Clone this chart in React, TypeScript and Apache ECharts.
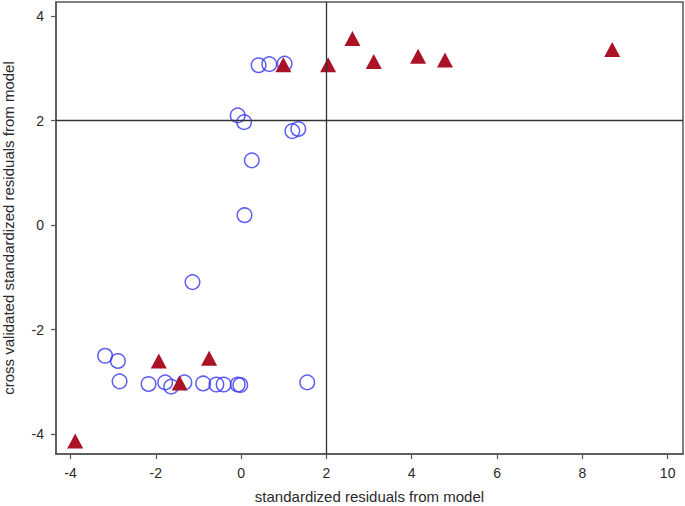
import React, { useEffect, useRef } from "react";
import * as echarts from "echarts";

const circleX = [0.41, 0.66, 1.02, -0.08, 0.07, 1.2, 1.34, 0.25, 0.08, -1.14, -3.19, -2.89, -2.85, -2.17, -1.78, -1.64, -1.33, -0.89, -0.58, -0.41, -0.08, -0.02, 1.55];
const circleY = [3.06, 3.08, 3.09, 2.1, 1.97, 1.8, 1.84, 1.24, 0.19, -1.09, -2.5, -2.6, -2.99, -3.04, -3.01, -3.09, -3.01, -3.03, -3.05, -3.05, -3.05, -3.06, -3.01];

const triX = [0.99, 2.04, 2.61, 3.11, 4.15, 4.78, 8.7, -1.93, -1.44, -0.75, -3.89];
const triY = [3.07, 3.07, 3.57, 3.13, 3.23, 3.16, 3.36, -2.6, -3.02, -2.55, -4.13];

const xTicks = [-4, -2, 0, 2, 4, 6, 8, 10];
const yTicks = [-4, -2, 0, 2, 4];
const refX = 2;
const refY = 2;

const xTitle = "standardized residuals from model";
const yTitle = "cross validated standardized residuals from model";

export default function App() {
  const ref = useRef<HTMLDivElement>(null);
  useEffect(() => {
    if (!ref.current) return;
    const chart = echarts.init(ref.current, undefined, { renderer: "svg" });
    const font = "Liberation Sans, Arial, sans-serif";
    const axisCommon = {
      type: "value",
      axisLine: { show: true, onZero: false, lineStyle: { color: "#555", width: 1.5 } },
      axisTick: { show: true, length: 5, lineStyle: { color: "#555", width: 1.2 } },
      splitLine: { show: false },
      nameLocation: "middle",
      nameTextStyle: { fontFamily: font, fontSize: 15, color: "#2a2a2a" },
    };
    chart.setOption({
      animation: false,
      backgroundColor: "#fff",
      grid: {
        left: 56,
        right: 2,
        top: 2,
        bottom: 52,
        show: true,
        borderColor: "#555",
        borderWidth: 1.5,
        outerBoundsMode: "none",
        containLabel: false,
      },
      xAxis: {
        ...axisCommon,
        min: -4.34,
        max: 10.36,
        name: xTitle,
        nameGap: 35,
        axisTick: { ...axisCommon.axisTick, customValues: xTicks },
        axisLabel: {
          customValues: xTicks,
          fontFamily: font,
          fontSize: 14,
          color: "#2a2a2a",
          margin: 12,
        },
      },
      yAxis: {
        ...axisCommon,
        min: -4.38,
        max: 4.27,
        name: yTitle,
        nameGap: 40,
        axisTick: { ...axisCommon.axisTick, customValues: yTicks },
        axisLabel: {
          customValues: yTicks,
          fontFamily: font,
          fontSize: 14,
          color: "#2a2a2a",
          margin: 12,
        },
      },
      series: [
        {
          type: "scatter",
          data: circleX.map((x, i) => [x, circleY[i]]),
          symbol: "circle",
          symbolSize: 14.5,
          itemStyle: { color: "transparent", borderColor: "#3535f0", borderWidth: 1.5 },
          markLine: {
            silent: true,
            symbol: "none",
            label: { show: false },
            lineStyle: { color: "#333", width: 1.3, type: "solid" },
            data: [{ xAxis: refX }, { yAxis: refY }],
          },
          z: 3,
        },
        {
          type: "scatter",
          data: triX.map((x, i) => [x, triY[i]]),
          symbol: "triangle",
          symbolSize: [16, 15],
          itemStyle: { color: "#ab1226", opacity: 1 },
          z: 4,
        },
      ],
    });
    return () => chart.dispose();
  }, []);
  return <div ref={ref} style={{ width: 685, height: 506, position: "absolute", left: 0, top: 0 }} />;
}
